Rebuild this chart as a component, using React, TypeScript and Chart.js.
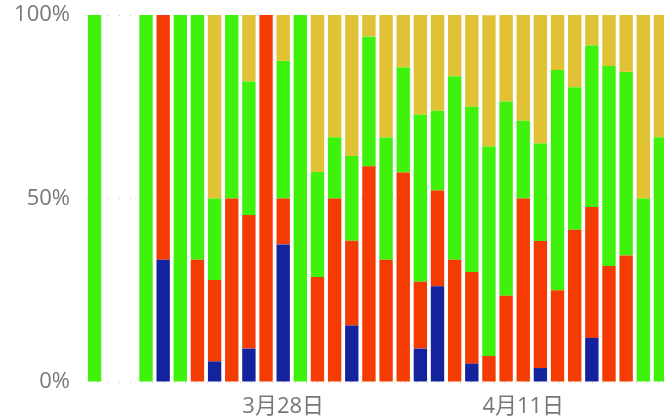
import React, { useEffect, useRef } from "react";
import { Chart, registerables } from "chart.js";

Chart.register(...registerables);

const dates: string[] = [
  "3月17日", "3月18日", "3月19日", "3月20日", "3月21日", "3月22日", "3月23日",
  "3月24日", "3月25日", "3月26日", "3月27日", "3月28日", "3月29日", "3月30日",
  "3月31日", "4月1日", "4月2日", "4月3日", "4月4日", "4月5日", "4月6日",
  "4月7日", "4月8日", "4月9日", "4月10日", "4月11日", "4月12日", "4月13日",
  "4月14日", "4月15日", "4月16日", "4月17日", "4月18日", "4月19日",
];

const shownTicks: string[] = ["3月28日", "4月11日"];
const yTicks: number[] = [0, 50, 100];

const blueValues: (number | null)[] = [
  0, null, null, 0, 33.3, 0, 0, 5.6, 0, 9.1, 0, 37.5, 0, 0, 0, 15.4, 0,
  0, 0, 9.1, 26.1, 0, 5, 0, 0, 0, 3.8, 0, 0, 12, 0, 0, 0, 0,
];
const redValues: (number | null)[] = [
  0, null, null, 0, 66.7, 0, 33.3, 22.2, 50, 36.4, 100, 12.5, 0, 28.6, 50, 23.1, 58.8,
  33.3, 57.1, 18.2, 26.1, 33.3, 25, 7.1, 23.5, 50, 34.6, 25, 41.5, 35.7, 31.6, 34.5, 0, 0,
];
const greenValues: (number | null)[] = [
  100, null, null, 100, 0, 100, 66.7, 22.2, 50, 36.4, 0, 37.5, 100, 28.6, 16.7, 23.1, 35.3,
  33.3, 28.6, 45.5, 21.7, 50, 45, 57.1, 52.9, 21.2, 26.6, 60, 38.8, 44, 54.5, 50, 50, 66.7,
];
const yellowValues: (number | null)[] = [
  0, null, null, 0, 0, 0, 0, 50, 0, 18.2, 0, 12.5, 0, 42.9, 33.3, 38.5, 5.9,
  33.4, 14.3, 27.3, 26.1, 16.7, 25, 35.7, 23.6, 28.8, 35, 15, 19.7, 8.3, 13.9, 15.5, 50, 33.3,
];

const FONT = "'Open Sans', 'Noto Sans CJK SC', sans-serif";

export default function App() {
  const ref = useRef<HTMLCanvasElement | null>(null);

  useEffect(() => {
    if (!ref.current) return;
    const mk = (label: string, data: (number | null)[], color: string) => ({
      label,
      data,
      backgroundColor: color,
      borderWidth: 0,
      barPercentage: 0.78,
      categoryPercentage: 1,
    });
    const chart = new Chart(ref.current, {
      type: "bar",
      data: {
        labels: dates,
        datasets: [
          mk("系列1", blueValues, "#13239E"),
          mk("系列2", redValues, "#F43C02"),
          mk("系列3", greenValues, "#3FF20B"),
          mk("系列4", yellowValues, "#E1C235"),
        ],
      },
      options: {
        animation: false,
        responsive: false,
        devicePixelRatio: 1,
        layout: { padding: { top: 15, left: 0, right: 0, bottom: 0 } },
        plugins: { legend: { display: false }, tooltip: { enabled: false } },
        scales: {
          x: {
            stacked: true,
            grid: { display: false },
            border: { display: false },
            ticks: {
              autoSkip: false,
              maxRotation: 0,
              padding: 4,
              color: "#777",
              font: { family: FONT, size: 22 },
              callback: (_v: any, i: number) =>
                shownTicks.includes(dates[i]) ? dates[i] : "",
            },
            afterFit: (s: any) => {
              s.height = 37;
              s.paddingLeft = 0;
              s.paddingRight = 0;
            },
          },
          y: {
            stacked: true,
            min: 0,
            max: 100,
            afterBuildTicks: (s: any) => {
              s.ticks = yTicks.map((v) => ({ value: v }));
            },
            grid: {
              color: "#c8c8c8",
              lineWidth: 1,
              drawTicks: false,
            },
            border: { display: false, dash: [1, 10] },
            ticks: {
              padding: 16,
              color: "#777",
              font: { family: FONT, size: 22 },
              callback: (v: any) => v + "%",
            },
            afterFit: (s: any) => {
              s.width = 86;
              s.paddingTop = 0;
              s.paddingBottom = 0;
            },
          },
        },
      },
    });
    return () => chart.destroy();
  }, []);

  return (
    <div
      style={{
        position: "fixed",
        left: 0,
        top: 0,
        width: 664,
        height: 419,
        overflow: "hidden",
        background: "#fff",
      }}
    >
      <canvas ref={ref} width={669} height={419} style={{ display: "block" }} />
    </div>
  );
}
